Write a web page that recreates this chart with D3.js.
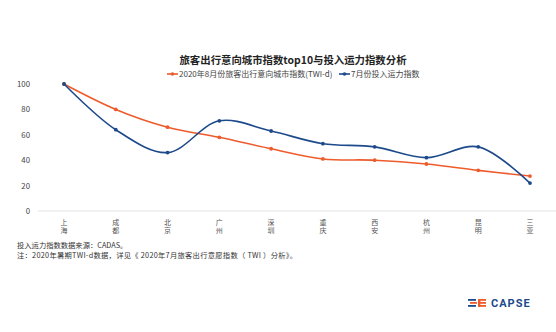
<!DOCTYPE html>
<html><head><meta charset="utf-8">
<script src="https://cdn.jsdelivr.net/npm/d3@7"></script>
<style>body{margin:0;background:#fff;}svg{display:block;font-family:"Noto Sans CJK SC","Noto Sans",sans-serif;}</style>
</head><body>
<svg id="c" width="556" height="332"></svg>
<script>
const categories = ["上海","成都","北京","广州","深圳","重庆","西安","杭州","昆明","三亚"];
const twiValues = [100, 80, 66, 58, 49, 41, 40, 37, 32, 27.5];
const capValues = [100, 64, 46, 71, 63, 53, 50.5, 42, 50.5, 22];
const yTicks = [0, 20, 40, 60, 80, 100];
const seriesNames = ["2020年8月份旅客出行意向城市指数(TWI-d)", "7月份投入运力指数"];
const colors = ["#EE5B2C", "#1D4A8B"];

const svg = d3.select("#c");
const x = d3.scalePoint().domain(categories).range([64, 530]);
const y = d3.scaleLinear().domain([0, 100]).range([211, 84]);

// title
svg.append("text").attr("x", 293).attr("y", 64).attr("text-anchor", "middle")
  .attr("font-size", 10.4).attr("font-weight", "bold").attr("fill", "#222")
  .text("旅客出行意向城市指数top10与投入运力指数分析");

// legend
const legX = [167, 339];
seriesNames.forEach((n, i) => {
  const g = svg.append("g").attr("transform", `translate(${legX[i]},74)`);
  g.append("line").attr("x1", 0).attr("x2", 11).attr("stroke", colors[i]).attr("stroke-width", 1.6);
  g.append("circle").attr("cx", 5.5).attr("r", 1.8).attr("fill", colors[i]);
  g.append("text").attr("x", 12).attr("y", 3).attr("font-size", 8).attr("fill", "#444").text(n);
});

// y axis labels
yTicks.forEach(t => {
  svg.append("text").attr("x", 30).attr("y", y(t) + 3).attr("text-anchor", "end")
    .attr("font-size", 7.8).attr("fill", "#444").text(t);
});
// baseline
svg.append("line").attr("x1", 38).attr("x2", 556).attr("y1", y(0)).attr("y2", y(0))
  .attr("stroke", "#e3e3e3").attr("stroke-width", 1);

// x labels (vertical text)
categories.forEach(c => {
  svg.append("text").attr("x", x(c)).attr("y", 219)
    .style("writing-mode", "vertical-rl").attr("letter-spacing", 1)
    .attr("font-size", 7).attr("fill", "#555").text(c);
});

// lines
const line = d3.line().x((d, i) => x(categories[i])).y(d => y(d)).curve(d3.curveCatmullRom.alpha(0.5));
[twiValues, capValues].forEach((vals, i) => {
  svg.append("path").attr("d", line(vals)).attr("fill", "none")
    .attr("stroke", colors[i]).attr("stroke-width", 1.6);
  svg.selectAll(null).data(vals).enter().append("circle")
    .attr("cx", (d, j) => x(categories[j])).attr("cy", d => y(d)).attr("r", 1.9).attr("fill", colors[i]);
});

// footnotes
svg.append("text").attr("x", 17).attr("y", 247.5).attr("font-size", 7.3).attr("fill", "#333")
  .text("投入运力指数数据来源：CADAS。");
svg.append("text").attr("x", 17).attr("y", 257.5).attr("font-size", 7.3).attr("fill", "#333")
  .attr("textLength", 280).attr("lengthAdjust", "spacing")
  .text("注：2020年暑期TWI-d数据，详见《 2020年7月旅客出行意愿指数（ TWI ）分析》。");

// logo
const lg = svg.append("g").attr("transform", "translate(468,299)");
[[0, 8, "#1D4A8B"], [2, 7, "#EE5B2C"], [0, 8, "#1D4A8B"]].forEach((s, k) => {
  lg.append("rect").attr("x", s[0]).attr("y", k * 3).attr("width", s[1]).attr("height", 1.8).attr("fill", s[2]);
});
lg.append("rect").attr("x", 10).attr("y", 0).attr("width", 2.4).attr("height", 7.8).attr("fill", "#EE5B2C");
[0, 3, 6].forEach(yy => lg.append("rect").attr("x", 10).attr("y", yy).attr("width", 8).attr("height", 1.8).attr("fill", "#EE5B2C"));
lg.append("text").attr("x", 23).attr("y", 8.2).attr("font-size", 11).attr("font-weight", "bold")
  .attr("letter-spacing", 1).attr("font-family", "Roboto, sans-serif").attr("fill", "#1D4A8B").text("CAPSE");
</script>
</body></html>
